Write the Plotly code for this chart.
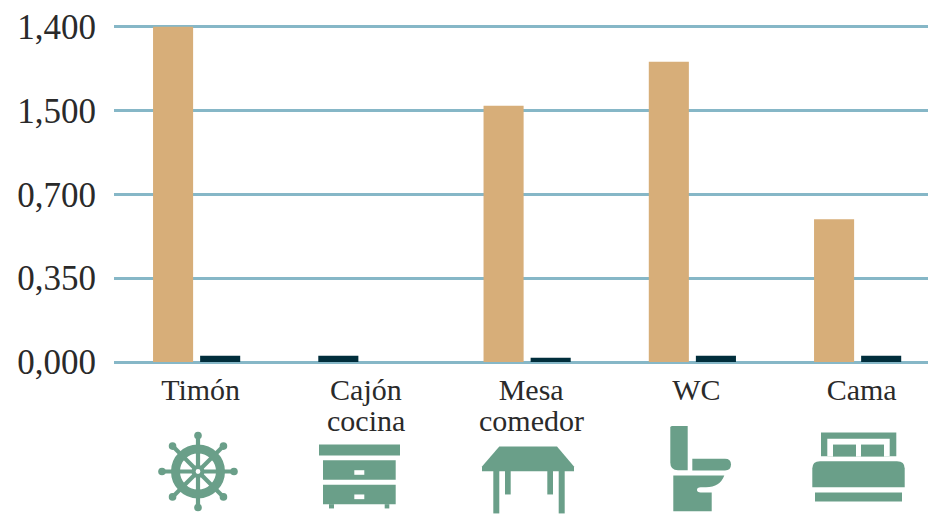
import math
import plotly.graph_objects as go

categories = ["Timón", "Cajón", "Mesa", "WC", "Cama"]
second_lines = ["", "cocina", "comedor", "", ""]
series_a = [1.40, 0.026, 1.07, 1.254, 0.596]
series_b = [0.026, 0, 0.018, 0.026, 0.026]
tick_values = [0, 0.35, 0.70, 1.05, 1.40]
tick_labels = ["0,000", "0,350", "0,700", "1,500", "1,400"]

TAN = "#D7AE79"
DARK = "#012E3C"
GREEN = "#6A9F89"
GRID = "#86B7C7"
INK = "#2A2A2A"
W, H = 928, 515
Y_MAX = 1.42
PX_PER_UNIT = 239.86
L, R, B = 114, 928, 362.3
T = B - Y_MAX * PX_PER_UNIT
GROUP_PX = 165.25
colors_a = [TAN, DARK, TAN, TAN, TAN]


def px(x):
    return (x - L) / (R - L)


def py(y):
    return (B - y) / (B - T)


def rect(x0, y0, x1, y1, color=GREEN):
    return dict(type="rect", xref="paper", yref="paper", x0=px(x0), y0=py(y0), x1=px(x1), y1=py(y1),
                fillcolor=color, line=dict(width=0))


def circle(cx, cy, r, color=GREEN):
    return dict(type="circle", xref="paper", yref="paper", x0=px(cx - r), y0=py(cy - r), x1=px(cx + r), y1=py(cy + r),
                fillcolor=color, line=dict(width=0))


def ring(cx, cy, r, width, color=GREEN):
    return dict(type="circle", xref="paper", yref="paper", x0=px(cx - r), y0=py(cy - r), x1=px(cx + r), y1=py(cy + r),
                fillcolor="rgba(0,0,0,0)", line=dict(width=width, color=color))


def seg(x0, y0, x1, y1, width, color=GREEN):
    return dict(type="line", xref="paper", yref="paper", x0=px(x0), y0=py(y0), x1=px(x1), y1=py(y1),
                line=dict(width=width, color=color))


def path(cmds, color=GREEN):
    out = []
    for c in cmds:
        if c[0] == "Z":
            out.append("Z")
        else:
            nums = c[1:]
            pts = [f"{px(nums[i]):.5f},{py(nums[i + 1]):.5f}" for i in range(0, len(nums), 2)]
            out.append(c[0] + " " + " ".join(pts))
    return dict(type="path", xref="paper", yref="paper", path=" ".join(out), fillcolor=color, line=dict(width=0))


shapes = []

# ship's wheel
cx, cy = 198, 472
for k in range(8):
    a = k * math.pi / 4
    shapes.append(seg(cx, cy, cx + 36 * math.cos(a), cy + 36 * math.sin(a), 4.2))
    shapes.append(circle(cx + 36 * math.cos(a), cy + 36 * math.sin(a), 3.8))
shapes.append(ring(cx, cy, 22.5, 9))
shapes.append(circle(cx, cy, 6.5))
shapes.append(circle(cx, cy, 2.4, "white"))

# drawers
shapes += [
    rect(319, 445, 400, 456),
    rect(323, 460.7, 395.7, 480.3),
    rect(354.3, 470.7, 364.3, 475.3, "white"),
    rect(323, 485.3, 395.7, 504.7),
    rect(354.3, 495, 364.3, 499.7, "white"),
    rect(329, 504.7, 334, 509),
    rect(384.7, 504.7, 389.3, 509),
]

# table
shapes += [
    path([("M", 499.3, 447), ("L", 557, 447), ("L", 574, 467), ("L", 574, 471.7), ("L", 482, 471.7), ("L", 482, 467), ("Z",)]),
    rect(493.3, 471, 499.3, 514),
    rect(558.7, 471, 564.7, 514),
    rect(505, 471, 510.7, 495),
    rect(547.3, 471, 553, 495),
]

# toilet
shapes += [
    path([("M", 672, 426.3), ("L", 687.7, 426.3), ("L", 687.7, 470.7), ("L", 678, 470.7), ("Q", 670.3, 470.7, 670.3, 463), ("L", 670.3, 428), ("Q", 670.3, 426.3, 672, 426.3), ("Z",)]),
    path([("M", 692.3, 459.3), ("L", 725, 459.3), ("Q", 731, 459.3, 731, 465), ("Q", 731, 471, 725, 471), ("L", 692.3, 471), ("Z",)]),
    path([("M", 673.3, 476), ("L", 724.3, 476), ("Q", 720, 487.7, 706, 487.7), ("L", 700.7, 487.7), ("Q", 697, 487.7, 697, 490.5),
          ("Q", 697, 493, 700.7, 493), ("L", 711.7, 493), ("L", 711.7, 511.7), ("L", 673.3, 511.7), ("Z",)]),
]

# bed
shapes += [
    rect(821, 433, 896.3, 456.7),
    rect(827.3, 439.3, 889.7, 456.7, "white"),
    rect(833, 445, 856, 457),
    rect(861, 445, 884, 457),
    path([("M", 820, 461.7), ("L", 897, 461.7), ("Q", 904.7, 461.7, 904.7, 469), ("L", 904.7, 487.7), ("L", 812.3, 487.7), ("L", 812.3, 469), ("Q", 812.3, 461.7, 820, 461.7), ("Z",)]),
    rect(815, 493, 902, 502),
]

annotations = [
    dict(x=c, xref="x", y=py(421), yref="paper", text=t, showarrow=False, xshift=4, yanchor="middle",
         font=dict(size=30, color=INK))
    for c, t in zip(categories, second_lines) if t
]

fig = go.Figure()
fig.add_bar(x=categories, y=series_a, marker=dict(color=colors_a, line=dict(width=0)))
fig.add_bar(x=categories, y=series_b, marker=dict(color=DARK, line=dict(width=0)))

fig.update_layout(
    width=W, height=H,
    margin=dict(l=L, r=W - R, t=T, b=H - B, pad=0, autoexpand=False),
    paper_bgcolor="white", plot_bgcolor="white",
    barmode="group", bargap=0.43, bargroupgap=0.149,
    showlegend=False,
    shapes=shapes,
    annotations=annotations,
    font=dict(family="Liberation Serif", color=INK),
    xaxis=dict(type="category", range=[-0.5, -0.5 + (R - L) / GROUP_PX], showgrid=False, zeroline=False,
               showline=False, ticks="", tickfont=dict(size=30, color=INK),
               ticklabelstandoff=7, ticklabelshift=4, tickangle=0, fixedrange=True),
    yaxis=dict(range=[0, Y_MAX], tickmode="array", tickvals=tick_values, ticktext=tick_labels,
               showgrid=True, gridcolor=GRID, gridwidth=2.5, zeroline=True, zerolinecolor=GRID, zerolinewidth=2.5,
               showline=False, ticks="", tickfont=dict(size=35, color=INK), ticklabelstandoff=17, fixedrange=True),
)

fig.write_html("out.html", config=dict(displayModeBar=False),
               post_script="document.body.style.margin='0';")
